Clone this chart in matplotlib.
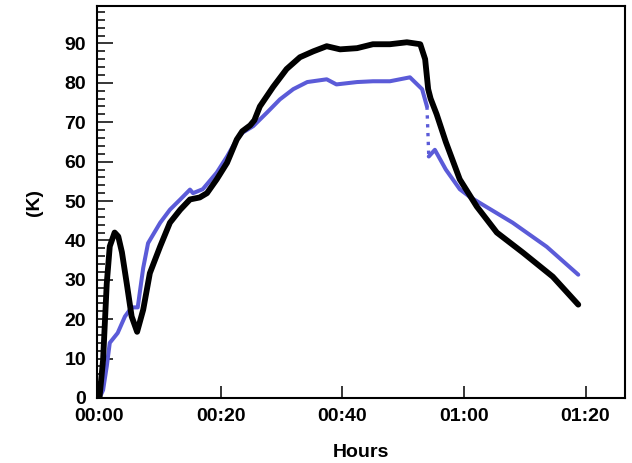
import matplotlib
matplotlib.use("Agg")
import matplotlib.pyplot as plt
from matplotlib.ticker import MultipleLocator, FuncFormatter

plt.rcParams['font.family'] = ['Liberation Sans', 'DejaVu Sans']
plt.rcParams['font.weight'] = 'bold'

# time in minutes, temperature in K
black_t = [0, 0.6, 1.2, 1.7, 2.5, 3.1, 3.7, 4.5, 5.3, 6.2, 7.2, 8.3, 10, 11.6, 13.3,
           14.9, 16.5, 17.7, 19.3, 21, 22.6, 23.5, 24.8, 25.5, 26.4, 28.6, 30.8, 33,
           35.2, 37.4, 39.6, 42.4, 45, 47.8, 50.6, 52.8, 53.6, 54.1, 54.5, 55.5, 57,
           59.3, 62.1, 65.4, 69.7, 74.6, 78.8]
black_v = [0, 9.7, 29, 38.5, 42, 41, 37, 29, 20.7, 16.8, 22.4, 31.7, 38.5, 44.5, 47.8,
           50.4, 50.9, 52, 55.5, 59.7, 65.6, 67.7, 69.2, 70.5, 74, 79, 83.5, 86.5,
           88, 89.3, 88.5, 88.8, 89.8, 89.8, 90.3, 89.8, 86, 78.4, 76, 72, 65,
           55.5, 48.6, 42, 36.9, 30.8, 23.7]

blue_t1 = [0, 0.6, 1.2, 1.7, 3.0, 4.2, 5.3, 6.3, 7.2, 8, 10, 11.6, 13.3, 14.9, 15.4,
           17, 19.3, 21, 22.6, 23.6, 25.3, 27.6, 29.7, 31.9, 34.2, 37.4, 39, 42.4,
           45, 47.8, 51.1, 53.1, 53.9]
blue_v1 = [0, 2, 8, 14, 16.5, 20.7, 23, 23, 33, 39.3, 44.5, 47.8, 50.4, 52.9, 52,
           53, 57.2, 61.3, 65.6, 67.4, 69, 72.5, 75.8, 78.4, 80.2, 80.9, 79.6, 80.2,
           80.4, 80.4, 81.4, 78.4, 74]
blue_t2 = [54.2, 55.2, 57, 59.3, 61, 68, 73.6, 78.8]
blue_v2 = [61.3, 63, 58, 53, 51, 44.5, 38.4, 31.3]

blue = '#5b5bd8'

fig = plt.figure(figsize=(6.32, 4.63), dpi=100)
ax = fig.add_axes([0.1535, 0.1404, 0.8355, 0.8466])

ax.plot(blue_t1, blue_v1, color=blue, lw=2.9, solid_capstyle='round')
ax.plot([blue_t1[-1], blue_t2[0]], [blue_v1[-1], blue_v2[0]], color=blue, lw=2.4, ls=':')
ax.plot(blue_t2, blue_v2, color=blue, lw=2.9, solid_capstyle='round')
ax.plot(black_t, black_v, color='black', lw=4.2, solid_capstyle='round')

ax.set_xlim(-0.4, 86.5)
ax.set_ylim(0, 99.5)

ax.xaxis.set_major_locator(MultipleLocator(20))
ax.xaxis.set_major_formatter(FuncFormatter(lambda m, p: f"{int(m // 60):02d}:{int(m % 60):02d}"))
ax.yaxis.set_minor_locator(MultipleLocator(2))
ax.set_yticks(range(0, 100, 10))

ax.tick_params(axis='x', direction='in', length=8.5, width=1.1, pad=7, labelsize=14)
ax.tick_params(axis='y', which='major', direction='in', length=11.5, width=1.1, pad=8, labelsize=14)
ax.tick_params(axis='y', which='minor', direction='in', length=5.8, width=1.1)
for s in ax.spines.values():
    s.set_linewidth(1.5)

ax.set_xlabel("Hours", fontsize=14, fontweight='bold', labelpad=14)
ax.set_ylabel("(K)", fontsize=14, fontweight='bold', labelpad=15)

fig.savefig("out.png", dpi=100)
